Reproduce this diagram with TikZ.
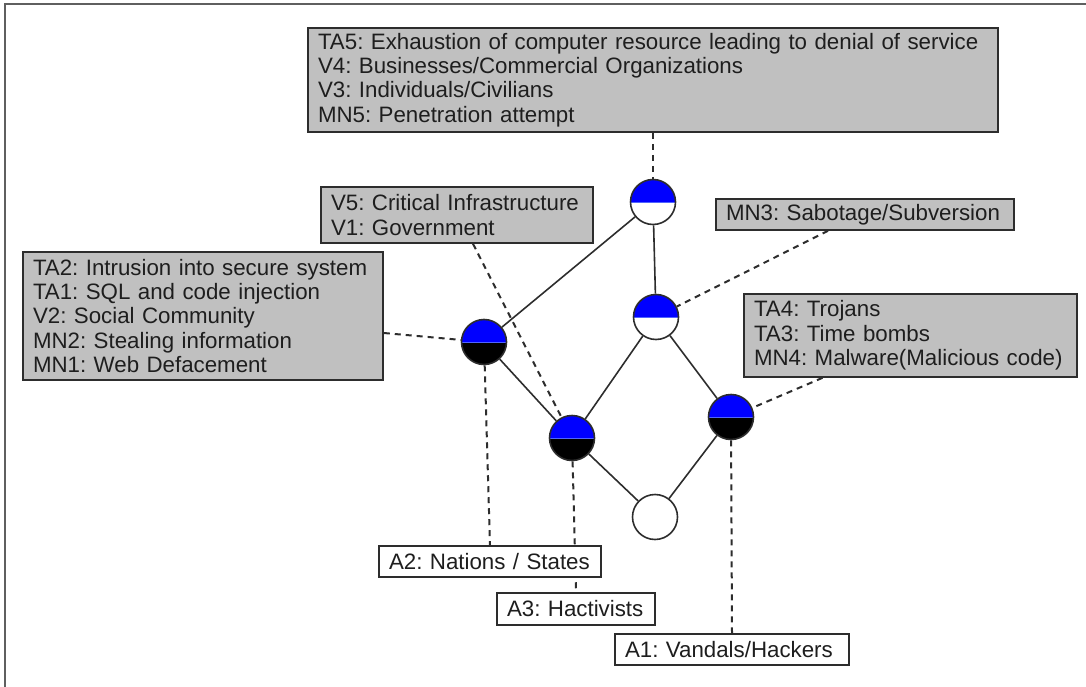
\documentclass[tikz,border=0pt]{standalone}
\usepackage{fontspec}
\setmainfont{Liberation Sans}
\usetikzlibrary{backgrounds}
\frenchspacing
\hyphenpenalty=10000
\exhyphenpenalty=10000

\definecolor{boxgray}{RGB}{192,192,192}
\definecolor{edgegray}{RGB}{45,45,45}
\definecolor{framegray}{RGB}{95,95,95}
\definecolor{nodeblue}{RGB}{0,0,255}
\definecolor{seamblue}{RGB}{80,100,255}
\definecolor{inkgray}{RGB}{30,30,30}

\tikzset{
  lbl/.style={font=\fontsize{22.3}{24.3}\selectfont, text=inkgray, align=left,
    inner xsep=10pt, inner ysep=0pt, draw=edgegray, line width=1.6pt},
  infobox/.style={lbl, fill=boxgray},
  actorbox/.style={lbl, fill=white},
  halfnode/.style 2 args={circle, draw=edgegray, line width=1.6pt, minimum size=45pt, inner sep=0pt,
    path picture={
      \fill[#1] (path picture bounding box.north west) rectangle (path picture bounding box.east);
      \fill[#2] (path picture bounding box.west) rectangle (path picture bounding box.south east);
      \draw[seamblue, line width=0.9pt] (path picture bounding box.west) -- (path picture bounding box.east);
    }},
  plainnode/.style={circle, draw=edgegray, line width=1.6pt, minimum size=45pt, inner sep=0pt, fill=white},
  link/.style={draw=edgegray, line width=1.6pt},
  dashlink/.style={draw=edgegray, line width=2pt, dash pattern=on 6pt off 5pt}
}

\begin{document}
\begin{tikzpicture}[x=1pt, y=-1pt]
  \useasboundingbox (0,0) rectangle (1086,687);

  % frame
  \draw[framegray, line width=1.5pt] (5,687) -- (5,4) -- (1086,4);

  % lattice nodes
  \node[halfnode={nodeblue}{white}] (n1) at (653,202) {};
  \node[halfnode={nodeblue}{white}] (n2) at (656,317) {};
  \node[halfnode={nodeblue}{black}] (n3) at (484,342) {};
  \node[halfnode={nodeblue}{black}] (n4) at (572,438) {};
  \node[halfnode={nodeblue}{black}] (n5) at (731,417) {};
  \node[plainnode] (n6) at (655,517) {};

  % attribute boxes
  \node[infobox, minimum width=690pt, text width=670pt, minimum height=104pt] (tbox) at (653,80)
    {TA5: Exhaustion of computer resource leading to denial of service\\
     V4: Businesses/Commercial Organizations\\
     V3: Individuals/Civilians\\
     MN5: Penetration attempt};
  \node[infobox, minimum width=272pt, text width=252pt, minimum height=56pt] (vbox) at (457,215)
    {V5: Critical Infrastructure\\V1: Government};
  \node[infobox, minimum width=298pt, text width=278pt, minimum height=31pt] (mbox) at (865,214.5)
    {MN3: Sabotage/Subversion};
  \node[infobox, minimum width=360pt, text width=340pt, minimum height=128pt] (lbox) at (203,316)
    {TA2: Intrusion into secure system\\
     TA1: SQL and code injection\\
     V2: Social Community\\
     MN2: Stealing information\\
     MN1: Web Defacement};
  \node[infobox, minimum width=333pt, text width=313pt, minimum height=83pt] (rbox) at (910.5,335.5)
    {TA4: Trojans\\TA3: Time bombs\\MN4: Malware(Malicious code)};

  % actor boxes
  \node[actorbox, minimum width=222pt, text width=202pt, minimum height=31pt] (a2) at (490,561.5)
    {A2: Nations / States};
  \node[actorbox, minimum width=158pt, text width=138pt, minimum height=32pt] (a3) at (576,609)
    {A3: Hactivists};
  \node[actorbox, minimum width=234pt, text width=214pt, minimum height=31pt] (a1) at (732,649.5)
    {A1: Vandals/Hackers};

  \begin{scope}[on background layer]
    % lattice edges
    \draw[link] (n1) -- (n3);
    \draw[link] (n1) -- (n2);
    \draw[link] (n2) -- (n4);
    \draw[link] (n2) -- (n5);
    \draw[link] (n3) -- (n4);
    \draw[link] (n4) -- (n6);
    \draw[link] (n5) -- (n6);
    % label attachments
    \draw[dashlink] (tbox.south) -- (n1);
    \draw[dashlink] ([xshift=16pt]vbox.south) -- (n4);
    \draw[dashlink] ([xshift=-37pt]mbox.south) -- (n2);
    \draw[dashlink] ([yshift=-17pt]lbox.east) -- (n3);
    \draw[dashlink] ([xshift=-88pt]rbox.south) -- (n5);
    \draw[dashlink] (n3) -- (a2.north);
    \draw[dashlink] (n4) -- (a3.north);
    \draw[dashlink] (n5) -- (a1.north);
  \end{scope}
\end{tikzpicture}
\end{document}
